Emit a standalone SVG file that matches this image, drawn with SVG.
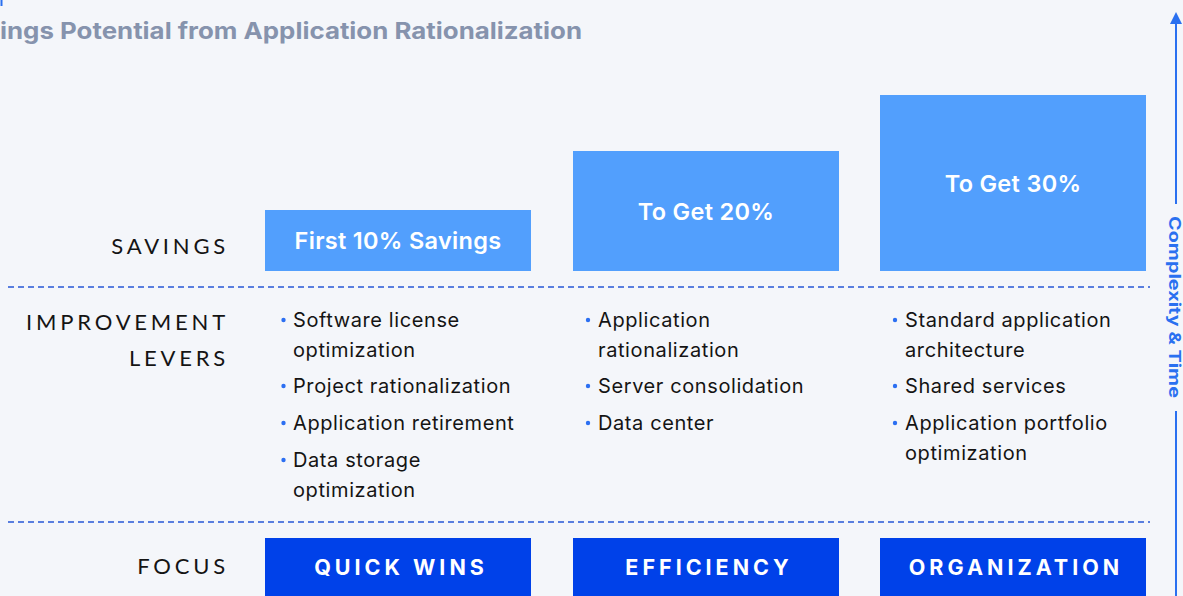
<svg xmlns="http://www.w3.org/2000/svg" width="1183" height="596" viewBox="0 0 1183 596">
  <defs>
    <style>
      .title { font-family: Inter, "Open Sans", sans-serif; font-weight: 700; font-size: 23px; fill: #8693ad; }
      .lbl { font-family: Lato, "Open Sans", sans-serif; font-weight: 400; font-size: 22px; fill: #141414; letter-spacing: 3.8px; }
      .sav { fill: #529ffd; }
      .foc { fill: #0041e9; }
      .savtxt { font-family: Inter, "Open Sans", sans-serif; font-weight: 600; font-size: 23.5px; fill: #ffffff; text-anchor: middle; letter-spacing: 0.3px; }
      .foctxt { font-family: Inter, "Open Sans", sans-serif; font-weight: 700; font-size: 21.5px; fill: #ffffff; text-anchor: middle; letter-spacing: 4px; }
      .item { font-family: Inter, "Open Sans", sans-serif; font-weight: 400; font-size: 20px; fill: #141414; letter-spacing: 0.6px; }
      .dot { fill: #2b6ff2; }
      .dash { stroke: #2657d6; stroke-width: 1.3; stroke-dasharray: 6 4; fill: none; }
      .axis { stroke: #2a70f0; stroke-width: 2; fill: none; }
      .axtxt { font-family: Inter, "Open Sans", sans-serif; font-weight: 700; font-size: 16px; fill: #2a70f0; text-anchor: middle; }
    </style>
    <marker id="ah" viewBox="0 0 10 10" refX="5" refY="5" markerWidth="6" markerHeight="6" orient="auto">
      <path d="M0,0 L10,5 L0,10 z" fill="#2a70f0"/>
    </marker>
  </defs>
  <rect x="0" y="0" width="1183" height="596" fill="#f4f6fa"/>
  <line x1="1.5" y1="0" x2="1.5" y2="6" stroke="#2a70f0" stroke-width="2"/>

  <text class="title" x="0" y="39" textLength="582" lengthAdjust="spacingAndGlyphs">ings Potential from Application Rationalization</text>

  <g id="connectors">
    <line class="dash" x1="8" y1="287" x2="1150" y2="287"/>
    <line class="dash" x1="8" y1="522" x2="1150" y2="522"/>
    <line class="axis" x1="1176" y1="204" x2="1176" y2="18" marker-end="url(#ah)"/>
    <line class="axis" x1="1176" y1="411" x2="1176" y2="596"/>
  </g>

  <g id="axis-label">
    <text class="axtxt" transform="translate(1176,307) rotate(90)" x="0" y="7" textLength="182" lengthAdjust="spacingAndGlyphs">Complexity &amp; Time</text>
  </g>

  <g id="row-labels">
    <text class="lbl" x="229" y="254" text-anchor="end">SAVINGS</text>
    <text class="lbl" x="229" y="330" text-anchor="end">IMPROVEMENT</text>
    <text class="lbl" x="229" y="366" text-anchor="end">LEVERS</text>
    <text class="lbl" x="229" y="574" text-anchor="end">FOCUS</text>
  </g>

  <g id="savings-1">
    <rect class="sav" x="265" y="210" width="266" height="61"/>
    <text class="savtxt" x="398" y="249">First 10% Savings</text>
  </g>
  <g id="savings-2">
    <rect class="sav" x="573" y="151" width="266" height="120"/>
    <text class="savtxt" x="706" y="220">To Get 20%</text>
  </g>
  <g id="savings-3">
    <rect class="sav" x="880" y="95" width="266" height="176"/>
    <text class="savtxt" x="1013" y="192">To Get 30%</text>
  </g>

  <g id="levers-1">
    <circle class="dot" cx="283.5" cy="320" r="2.2"/>
    <text class="item" x="293" y="327">Software license</text>
    <text class="item" x="293" y="357">optimization</text>
    <circle class="dot" cx="283.5" cy="386" r="2.2"/>
    <text class="item" x="293" y="393">Project rationalization</text>
    <circle class="dot" cx="283.5" cy="423" r="2.2"/>
    <text class="item" x="293" y="430">Application retirement</text>
    <circle class="dot" cx="283.5" cy="460" r="2.2"/>
    <text class="item" x="293" y="467">Data storage</text>
    <text class="item" x="293" y="497">optimization</text>
  </g>

  <g id="levers-2">
    <circle class="dot" cx="588" cy="320" r="2.2"/>
    <text class="item" x="598" y="327">Application</text>
    <text class="item" x="598" y="357">rationalization</text>
    <circle class="dot" cx="588" cy="386" r="2.2"/>
    <text class="item" x="598" y="393">Server consolidation</text>
    <circle class="dot" cx="588" cy="423" r="2.2"/>
    <text class="item" x="598" y="430">Data center</text>
  </g>

  <g id="levers-3">
    <circle class="dot" cx="895" cy="320" r="2.2"/>
    <text class="item" x="905" y="327">Standard application</text>
    <text class="item" x="905" y="357">architecture</text>
    <circle class="dot" cx="895" cy="386" r="2.2"/>
    <text class="item" x="905" y="393">Shared services</text>
    <circle class="dot" cx="895" cy="423" r="2.2"/>
    <text class="item" x="905" y="430">Application portfolio</text>
    <text class="item" x="905" y="460">optimization</text>
  </g>

  <g id="focus-1">
    <rect class="foc" x="265" y="538" width="266" height="60"/>
    <text class="foctxt" x="401" y="575">QUICK WINS</text>
  </g>
  <g id="focus-2">
    <rect class="foc" x="573" y="538" width="266" height="60"/>
    <text class="foctxt" x="709" y="575">EFFICIENCY</text>
  </g>
  <g id="focus-3">
    <rect class="foc" x="880" y="538" width="266" height="60"/>
    <text class="foctxt" x="1016" y="575">ORGANIZATION</text>
  </g>
</svg>
